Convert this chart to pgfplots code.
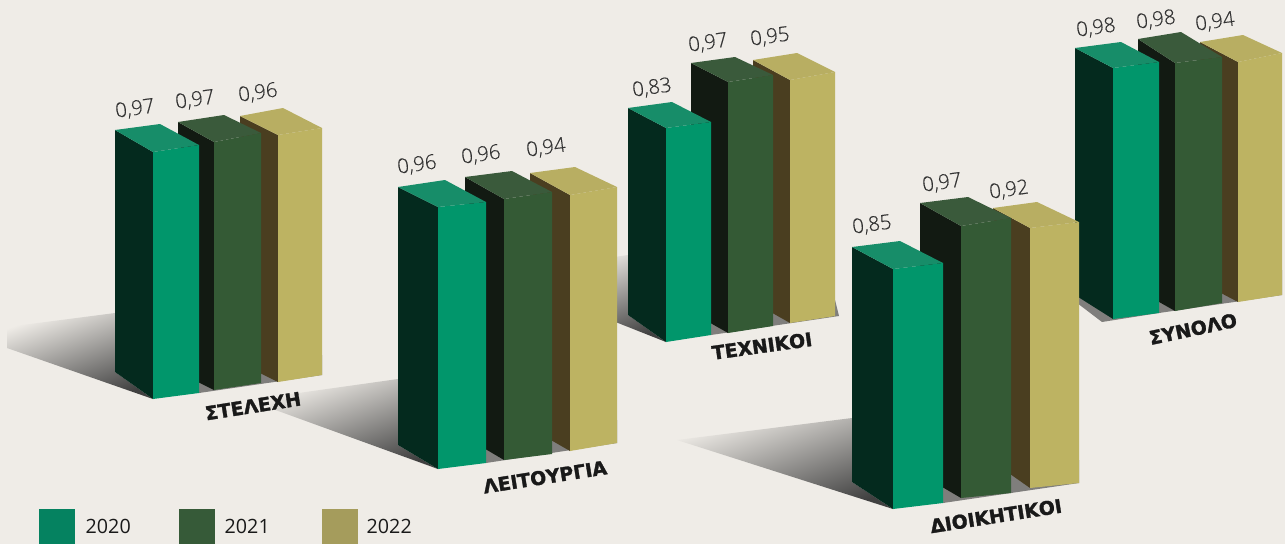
\documentclass[border=0pt]{standalone}
\usepackage{fontspec}
\setmainfont{Open Sans}
\newfontfamily\valfont{Open Sans Light}[FakeBold=0.4]
\newfontfamily\catfont{DejaVu Sans Bold}[FakeBold=1.6]
\usepackage{pgfplots}
\pgfplotsset{compat=1.18}

\definecolor{bgc}{HTML}{EFECE7}
\definecolor{floorc}{HTML}{7F7E7C}
\definecolor{shc}{HTML}{404040}
\definecolor{gF}{HTML}{01966B}
\definecolor{gL}{HTML}{042A1E}
\definecolor{gT}{HTML}{178D69}
\definecolor{dF}{HTML}{345A35}
\definecolor{dL}{HTML}{121A12}
\definecolor{dT}{HTML}{3A5A3B}
\definecolor{yF}{HTML}{BDB362}
\definecolor{yL}{HTML}{4A3E20}
\definecolor{yT}{HTML}{B8AE62}
\definecolor{lg0}{HTML}{058260}
\definecolor{lg1}{HTML}{365A38}
\definecolor{lg2}{HTML}{A59C5C}

% one face of a bar, in picture pixels
\newcommand{\face}[2]{\addplot[fill=#1,draw=none,forget plot] coordinates {#2} -- cycle;}
\newcommand{\shadow}[2][20]{\addplot[draw=none,forget plot,top color=bgc,bottom color=shc,shading angle=#1] coordinates {#2} -- cycle;}
\newcommand{\val}[3]{\node[rotate=8,text=black!80,font=\valfont\fontsize{20.4}{24}\selectfont] at (axis cs:#1,#2) {#3};}
\newcommand{\cat}[4]{\node[rotate=#4,text=black!90,font=\catfont\fontsize{18.9}{22}\selectfont] at (axis cs:#1,#2) {#3};}
\newcommand{\leg}[2]{\node[anchor=base west,inner sep=0pt,font=\fontsize{19.7}{24}\selectfont,text=black!90] at (axis cs:#1,533) {#2};}

\begin{document}
\begin{tikzpicture}
\begin{axis}[
    width=1285pt, height=544pt, scale only axis,
    xmin=0, xmax=1285, ymin=0, ymax=544,
    y dir=reverse, hide axis, clip=true, no markers]

\face{bgc}{(0,0) (1285,0) (1285,544) (0,544)}

% STELEXI
\shadow{(115,313) (7,327) (7,348) (153,399) (115,372)}
\face{floorc}{(199,393) (322,375) (322,355) (199,355)}
\face{yL}{(240,116) (278,135) (278,382) (240,363)}
\face{yF}{(278,135) (322,128) (322,375) (278,382)}
\face{yT}{(240,116) (283,108) (322,128) (278,135)}
\face{dL}{(178,122) (214,142) (214,390) (178,372)}
\face{dF}{(214,142) (261,133) (261,383) (214,390)}
\face{dT}{(178,122) (224,115) (261,133) (214,142)}
\face{gL}{(115,130) (153,152) (153,399) (115,372)}
\face{gF}{(153,152) (199,145) (199,393) (153,399)}
\face{gT}{(115,130) (160,124) (199,145) (153,152)}

% TECHNIKOI
\shadow{(628,255) (560,265) (560,300) (666,342) (628,315)}
\face{floorc}{(711,335) (839,316) (835,300) (711,300)}
\face{yL}{(753,60) (790,80) (790,323) (753,302)}
\face{yF}{(790,80) (835,72) (835,316) (790,323)}
\face{yT}{(753,60) (797,53) (835,72) (790,80)}
\face{dL}{(691,63) (728,82) (728,333) (691,312)}
\face{dF}{(728,82) (773,75) (773,326) (728,333)}
\face{dT}{(691,63) (735,57) (773,75) (728,82)}
\face{gL}{(628,108) (666,128) (666,342) (628,315)}
\face{gF}{(666,128) (711,122) (711,335) (666,342)}
\face{gT}{(628,108) (672,102) (711,122) (666,128)}

% LEITOURGIA
\shadow{(398,379) (270,397) (270,408) (438,469) (398,445)}
\face{floorc}{(486,463) (617,443) (617,420) (486,420)}
\face{yL}{(530,173) (570,195) (570,451) (530,428)}
\face{yF}{(570,195) (617,187) (617,443) (570,451)}
\face{yT}{(530,173) (575,167) (617,187) (570,195)}
\face{dL}{(465,177) (504,199) (504,460) (465,437)}
\face{dF}{(504,199) (552,192) (552,454) (504,460)}
\face{dT}{(465,177) (512,171) (552,192) (504,199)}
\face{gL}{(398,187) (438,207) (438,469) (398,445)}
\face{gF}{(438,207) (486,202) (486,463) (438,469)}
\face{gT}{(398,187) (445,180) (486,202) (438,207)}

% SYNOLO
\face{floorc}{(1060,290) (1102,322) (1159,313) (1282,295) (1282,270) (1060,270)}
\face{yL}{(1200,42) (1238,62) (1238,302) (1200,282)}
\face{yF}{(1238,62) (1282,53) (1282,295) (1238,302)}
\face{yT}{(1200,42) (1243,35) (1282,53) (1238,62)}
\face{dL}{(1138,39) (1175,63) (1175,311) (1138,290)}
\face{dF}{(1175,63) (1222,57) (1222,303) (1175,311)}
\face{dT}{(1138,39) (1181,32) (1222,57) (1175,63)}
\face{gL}{(1075,48) (1113,68) (1113,319) (1075,295)}
\face{gF}{(1113,68) (1159,62) (1159,313) (1113,319)}
\face{gT}{(1075,48) (1121,42) (1159,62) (1113,68)}

% DIOIKITIKOI
\shadow{(852,418) (677,440) (893,509) (852,482)}
\face{floorc}{(943,503) (1079,483) (1079,460) (943,460)}
\face{yL}{(993,208) (1030,228) (1030,488) (993,462)}
\face{yF}{(1030,228) (1079,222) (1079,483) (1030,488)}
\face{yT}{(993,208) (1037,202) (1079,222) (1030,228)}
\face{dL}{(920,203) (961,226) (961,498) (920,474)}
\face{dF}{(961,226) (1011,218) (1011,493) (961,498)}
\face{dT}{(920,203) (968,197) (1011,218) (961,226)}
\face{gL}{(852,247) (893,269) (893,509) (852,482)}
\face{gF}{(893,269) (943,263) (943,503) (893,509)}
\face{gT}{(852,247) (900,241) (943,263) (893,269)}

% legend
\face{lg0}{(39,509) (75,509) (75,544) (39,544)}
\face{lg1}{(179,509) (215,509) (215,544) (179,544)}
\face{lg2}{(322,509) (358,509) (358,544) (322,544)}
\leg{85.5}{2020} \leg{224.5}{2021} \leg{366.5}{2022}

% value labels
\val{135}{109}{0,97} \val{195}{100}{0,97} \val{258}{93}{0,96}
\val{417}{165}{0,96} \val{481}{155}{0,96} \val{546}{148}{0,94}
\val{652}{88}{0,83} \val{708}{43}{0,97} \val{770}{37}{0,95}
\val{872}{225}{0,85} \val{942}{183}{0,97} \val{1009}{190}{0,92}
\val{1096}{28}{0,98} \val{1156}{20}{0,98} \val{1215}{22}{0,94}

% category labels
\cat{253}{406}{ΣΤΕΛΕΧΗ}{9}
\cat{545}{477}{ΛΕΙΤΟΥΡΓΙΑ}{9}
\cat{762}{346}{ΤΕΧΝΙΚΟΙ}{8}
\cat{996}{516}{ΔΙΟΙΚΗΤΙΚΟΙ}{9}
\cat{1193}{329}{ΣΥΝΟΛΟ}{12}
\end{axis}
\end{tikzpicture}
\end{document}
